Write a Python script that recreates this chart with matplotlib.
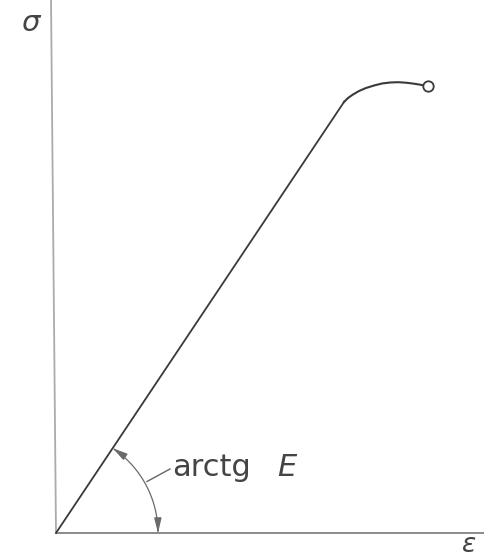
import numpy as np
import matplotlib
matplotlib.use("Agg")
import matplotlib.pyplot as plt
from matplotlib.patches import FancyArrowPatch
from matplotlib.path import Path

plt.rcParams['mathtext.fontset'] = 'dejavusans'

# Stress-strain diagram (arbitrary units)
linear_strain = [0.0, 2.88]
linear_stress = [0.0, 4.31]
plastic_strain = [2.88, 2.92, 2.97, 3.03, 3.10, 3.18, 3.26, 3.34, 3.42, 3.50, 3.58, 3.66, 3.72]
plastic_stress = [4.31, 4.35, 4.385, 4.42, 4.45, 4.475, 4.495, 4.505, 4.508, 4.503, 4.493, 4.48, 4.47]
rupture = (3.72, 4.47)
arc_radius = 1.02

fig = plt.figure(figsize=(4.85, 5.59), dpi=100)
ax = fig.add_axes([0, 0, 1, 1])
ax.set_xlim(-0.56, 4.29)
ax.set_ylim(-0.26, 5.33)
ax.axis('off')

axis_col = '#8a8a8a'
line_col = '#3a3a3a'
text_col = '#444444'

# axes
ax.plot([0, 4.29], [0, 0], color=axis_col, lw=1.4, solid_capstyle='butt')
ax.plot([0, -0.05], [0, 5.33], color='#ababab', lw=1.3, solid_capstyle='butt')

# elastic part and hardening curve
ax.plot(linear_strain, linear_stress, color=line_col, lw=1.3)
ax.plot(plastic_strain, plastic_stress, color=line_col, lw=1.5)
ax.plot(*rupture, marker='o', ms=7.5, mfc='white', mec=line_col, mew=1.3)

# angle arc with arrowheads at both ends
theta_max = np.arctan2(linear_stress[1], linear_strain[1])
th = np.linspace(0.0, theta_max, 60)
verts = np.column_stack([arc_radius * np.cos(th), arc_radius * np.sin(th)])
arc = FancyArrowPatch(path=Path(verts),
                      arrowstyle='<|-|>,head_length=9,head_width=2.2',
                      color='#6a6a6a', lw=0.9)
ax.add_patch(arc)

# leader and label
ax.plot([0.91, 1.14], [0.515, 0.64], color='#666666', lw=1.0)
ax.text(1.16, 0.57, 'arctg', fontsize=22, color=text_col,
        ha='left', va='baseline')
ax.text(2.21, 0.57, r'$E$', fontsize=22, color=text_col,
        ha='left', va='baseline')

ax.text(-0.24, 5.10, r'$\sigma$', fontsize=21, color=text_col, ha='center', va='center')
ax.text(4.13, -0.245, r'$\varepsilon$', fontsize=19, color=text_col, ha='center', va='bottom')

fig.savefig('out.png', dpi=100)
